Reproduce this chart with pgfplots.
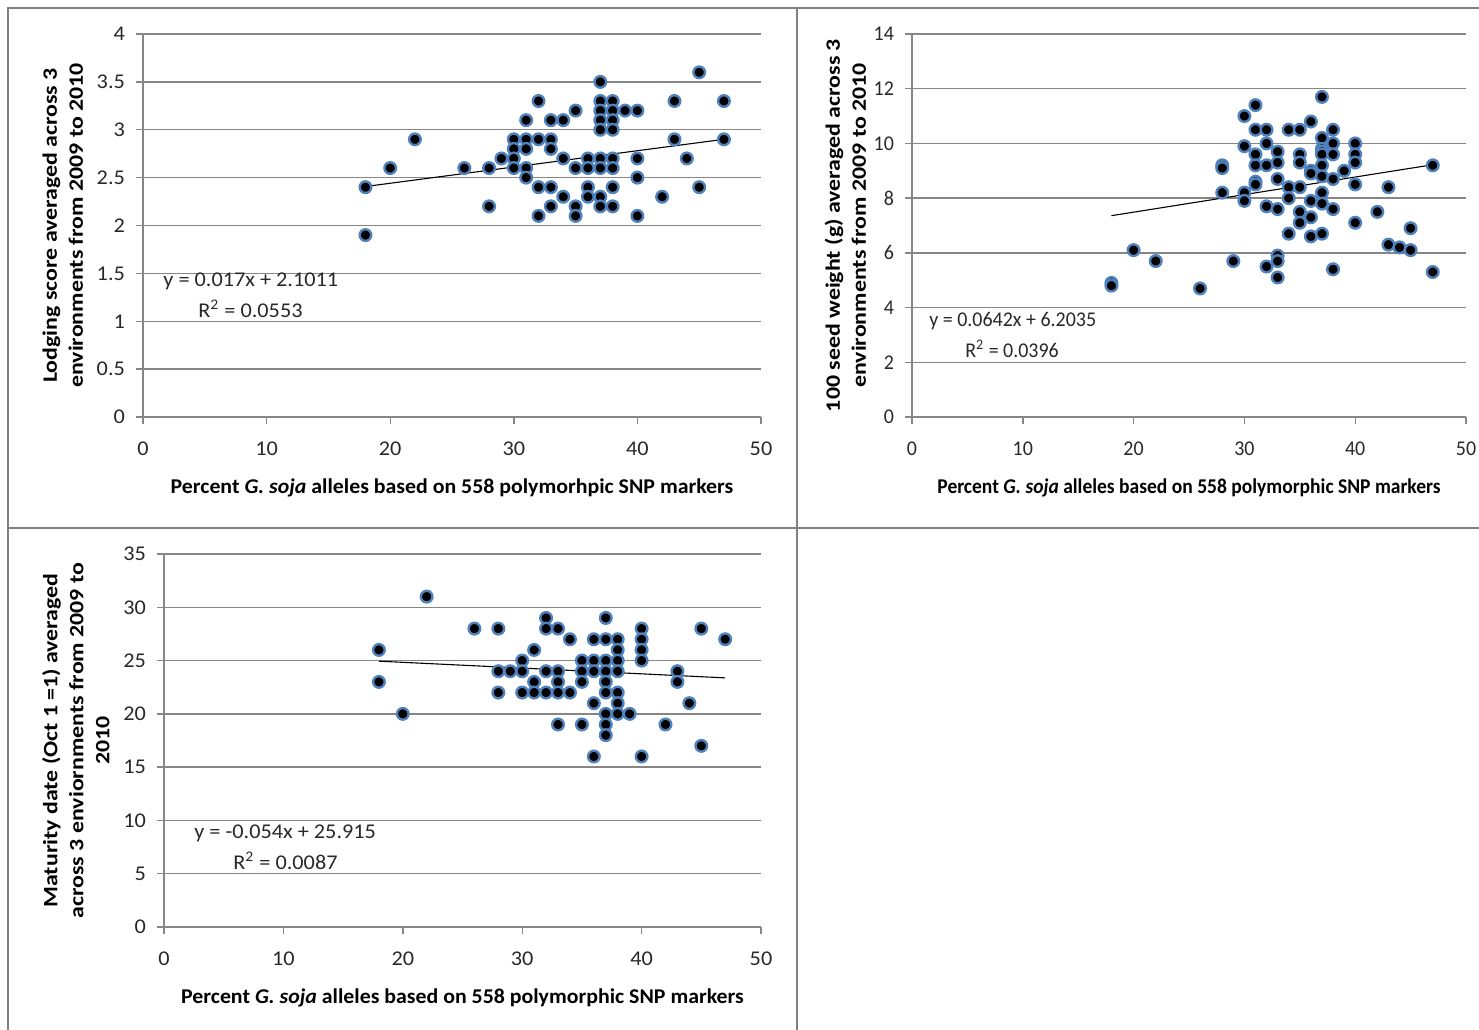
\documentclass[border=0pt]{standalone}
\usepackage{fontspec}
\setmainfont{Carlito}
\newfontfamily\fa{Carlito}[FakeStretch=1.06]
\newfontfamily\xa{Carlito}[FakeStretch=1.04]
\newfontfamily\fb{Carlito}[FakeStretch=0.95]
\newfontfamily\xb{Carlito}[FakeStretch=0.93]
\newfontfamily\yl{Carlito}[FakeStretch=1.17]
\usepackage{pgfplots}
\pgfplotsset{compat=1.18}

\definecolor{gridgray}{RGB}{134,134,134}
\definecolor{framegray}{RGB}{128,128,128}
\definecolor{markblue}{RGB}{79,129,189}
\definecolor{txt}{RGB}{40,40,40}

\tikzset{eqn/.style={anchor=west, text=txt, inner sep=0pt}}

\pgfplotsset{
  excel/.style={
    scale only axis,
    xmin=0, xmax=50, ymin=0,
    xtick={0,10,...,50},
    axis x line*=bottom, axis y line*=left,
    axis line style={draw=gridgray, line width=0.7pt},
    ymajorgrids, grid style={draw=gridgray, line width=0.7pt},
    tick align=outside, major tick length=3.5pt,
    tick style={draw=gridgray, line width=0.7pt},
    /pgf/number format/assume math mode=true,
    ticklabel style={text=txt},
    xticklabel shift=5.5pt,
    yticklabel shift=2pt,
    xlabel style={text=black, yshift=-4.5pt},
    ylabel style={font=\yl\fontsize{10.2}{13}\selectfont\bfseries, text=black, align=center},
    clip=false,
  },
  panelA/.style={
    ticklabel style={font=\fa\fontsize{10.5}{12}\selectfont},
    xlabel style={font=\xa\fontsize{10.5}{12}\selectfont\bfseries},
  },
  panelB/.style={
    ticklabel style={font=\fb\fontsize{10.5}{12}\selectfont},
    xlabel style={font=\xb\fontsize{10.5}{12}\selectfont\bfseries},
  },
  dots/.style={only marks, mark=*, mark size=2.9pt,
    mark options={fill=black, draw=markblue, line width=1.2pt}},
  trend/.style={black, line width=0.55pt, no marks},
}

\begin{document}
\begin{tikzpicture}
\useasboundingbox (0,0) rectangle (739.5pt,514.5pt);
% panel frames
\draw[framegray, line width=1pt] (4pt,510.5pt) rectangle (398.5pt,250.5pt);
\draw[framegray, line width=1pt] (398.5pt,510.5pt) -- (740pt,510.5pt);
\draw[framegray, line width=1pt] (398.5pt,250.5pt) -- (740pt,250.5pt);
\draw[framegray, line width=1pt] (4pt,250.5pt) -- (4pt,-1pt);
\draw[framegray, line width=1pt] (398.5pt,250.5pt) -- (398.5pt,-1pt);

% Lodging score
\begin{axis}[excel, panelA, at={(71.5pt,306pt)}, anchor=south west,
  width=309pt, height=191.5pt, ymax=4, ytick={0,0.5,...,4},
  xlabel={Percent \textit{G. soja} alleles based on 558 polymorhpic SNP markers},
  ylabel={Lodging score averaged across 3\\environments from 2009 to 2010}]
\addplot[dots] coordinates {
(18,2.4)(18,1.9)(20,2.6)(22,2.9)(26,2.6)(28,2.6)(28,2.2)(29,2.7)
(30,2.9)(30,2.8)(30,2.7)(30,2.6)(31,3.1)(31,2.9)(31,2.8)(31,2.6)(31,2.5)
(32,3.3)(32,2.9)(32,2.4)(32,2.1)(33,3.1)(33,2.9)(33,2.8)(33,2.4)(33,2.2)
(34,3.1)(34,2.7)(34,2.3)(35,3.2)(35,2.6)(35,2.2)(35,2.1)
(36,2.7)(36,2.6)(36,2.4)(36,2.3)
(37,3.5)(37,3.3)(37,3.2)(37,3.1)(37,3.0)(37,2.7)(37,2.6)(37,2.3)(37,2.2)
(38,3.3)(38,3.2)(38,3.1)(38,3.0)(38,2.7)(38,2.6)(38,2.4)(38,2.2)
(39,3.2)(40,3.2)(40,2.7)(40,2.5)(40,2.1)(42,2.3)(43,3.3)(43,2.9)
(44,2.7)(45,3.6)(45,2.4)(47,3.3)(47,2.9)};
\addplot[trend] coordinates {(18,2.4071)(47,2.9001)};
\node[eqn, font=\fa\fontsize{10.5}{12}\selectfont] at (axis cs:1.62,1.42) {y = 0.017x + 2.1011};
\node[eqn, font=\fa\fontsize{10.5}{12}\selectfont] at (axis cs:4.45,1.13) {R\textsuperscript{2} = 0.0553};
\end{axis}

% 100 seed weight
\begin{axis}[excel, panelB, at={(456pt,306pt)}, anchor=south west,
  width=277pt, height=191.5pt, ymax=14, ytick={0,2,...,14},
  ylabel shift=-3pt,
  xlabel={Percent \textit{G. soja} alleles based on 558 polymorphic SNP markers},
  ylabel={100 seed weight (g) averaged across 3\\environments from 2009 to 2010}]
\addplot[dots] coordinates {
(18,4.9)(18,4.8)(20,6.1)(22,5.7)(26,4.7)(28,9.2)(28,9.1)(28,8.2)(29,5.7)
(30,11.0)(30,9.9)(30,8.2)(30,7.9)
(31,11.4)(31,10.5)(31,9.6)(31,9.2)(31,8.6)(31,8.5)
(32,10.5)(32,10.0)(32,9.2)(32,7.7)(32,5.5)
(33,9.7)(33,9.3)(33,8.7)(33,7.6)(33,5.9)(33,5.7)(33,5.1)
(34,10.5)(34,8.4)(34,8.0)(34,6.7)
(35,10.5)(35,9.6)(35,9.3)(35,8.4)(35,7.5)(35,7.1)
(36,10.8)(36,9.0)(36,8.9)(36,7.9)(36,7.3)(36,6.6)
(37,11.7)(37,10.2)(37,9.8)(37,9.7)(37,9.6)(37,9.2)(37,8.8)(37,8.2)(37,7.8)(37,6.7)
(38,10.5)(38,10.0)(38,9.6)(38,8.7)(38,7.6)(38,5.4)
(39,9.0)(40,10.0)(40,9.6)(40,9.3)(40,8.5)(40,7.1)
(42,7.5)(43,8.4)(43,6.3)(44,6.2)(45,6.9)(45,6.1)(47,9.2)(47,5.3)};
\addplot[trend] coordinates {(18,7.3591)(47,9.2209)};
\node[eqn, font=\fb\fontsize{10.5}{12}\selectfont] at (axis cs:1.53,3.51) {y = 0.0642x + 6.2035};
\node[eqn, font=\fb\fontsize{10.5}{12}\selectfont] at (axis cs:4.78,2.49) {R\textsuperscript{2} = 0.0396};
\end{axis}

% Maturity date
\begin{axis}[excel, panelA, at={(82pt,51pt)}, anchor=south west,
  width=298.5pt, height=186.5pt, ymax=35, ytick={0,5,...,35},
  xlabel={Percent \textit{G. soja} alleles based on 558 polymorphic SNP markers},
  ylabel={Maturity date (Oct 1 =1) averaged\\across 3 enviornments from 2009 to\\2010}]
\addplot[dots] coordinates {
(18,26)(18,23)(20,20)(22,31)(26,28)(28,28)(28,24)(28,22)(29,24)
(30,25)(30,24)(30,22)(31,26)(31,23)(31,22)
(32,29)(32,28)(32,24)(32,22)(33,28)(33,24)(33,23)(33,22)(33,19)
(34,27)(34,22)(35,25)(35,24)(35,23)(35,19)
(36,27)(36,25)(36,24)(36,21)(36,16)
(37,29)(37,27)(37,25)(37,24)(37,23)(37,22)(37,20)(37,19)(37,18)
(38,27)(38,26)(38,25)(38,24)(38,22)(38,21)(38,20)
(39,20)(40,28)(40,27)(40,26)(40,25)(40,16)
(42,19)(43,24)(43,23)(44,21)(45,28)(45,17)(47,27)};
\addplot[trend] coordinates {(18,24.943)(47,23.377)};
\node[eqn, font=\fa\fontsize{10.5}{12}\selectfont] at (axis cs:2.51,8.82) {y = -0.054x + 25.915};
\node[eqn, font=\fa\fontsize{10.5}{12}\selectfont] at (axis cs:5.78,6.19) {R\textsuperscript{2} = 0.0087};
\end{axis}
\end{tikzpicture}
\end{document}
